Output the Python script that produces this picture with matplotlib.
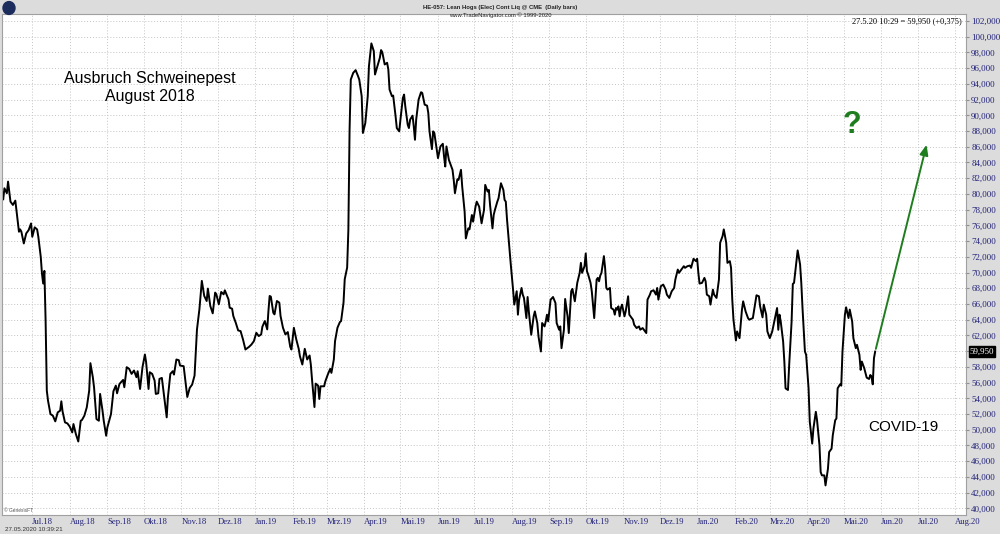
import matplotlib
matplotlib.use("Agg")
import matplotlib.pyplot as plt
from matplotlib.patches import Ellipse
import pandas as pd

# Lean Hogs continuous contract, daily closes
days_2018 = ["06-07", "06-08", "06-10", "06-11", "06-13", "06-15", "06-17", "06-20", "06-21", "06-22",
             "06-24", "06-26", "06-28", "06-30", "07-01", "07-03", "07-05", "07-06", "07-08", "07-09",
             "07-10", "07-11", "07-12", "07-13", "07-14", "07-16", "07-18", "07-20", "07-22", "07-24",
             "07-25", "07-26", "07-28", "07-30", "08-01", "08-03", "08-04", "08-05", "08-06", "08-08",
             "08-10", "08-11", "08-13", "08-15", "08-17", "08-18", "08-20", "08-21", "08-23", "08-25",
             "08-26", "08-28", "08-29", "08-31", "09-01", "09-04", "09-06", "09-08", "09-09", "09-11",
             "09-14", "09-15", "09-17", "09-19", "09-21", "09-23", "09-25", "09-26", "09-28", "09-30",
             "10-02", "10-03", "10-05", "10-06", "10-08", "10-10", "10-11", "10-13", "10-14", "10-16",
             "10-18", "10-20", "10-21", "10-23", "10-25", "10-26", "10-28", "10-30", "10-31", "11-03",
             "11-04", "11-06", "11-08", "11-10", "11-12", "11-14", "11-16", "11-18", "11-20", "11-22",
             "11-23", "11-25", "11-27", "11-29", "11-30", "12-02", "12-04", "12-06", "12-07", "12-10",
             "12-11", "12-13", "12-14", "12-16", "12-18", "12-20", "12-22", "12-24", "12-27", "12-29",
             "12-31"]
price_2018 = [79320, 80720, 80090, 81570, 79020, 78600, 79150, 75190, 75490, 75190,
              73700, 74980, 75400, 76250, 74550, 75750, 75490, 74550, 72000, 69870,
              68600, 70210, 63920, 54980, 53700, 52000, 51790, 51070, 52210, 52430,
              53620, 52340, 50940, 50810, 50390, 49660, 50730, 50090, 49450, 48510,
              51150, 51240, 51790, 52850, 54980, 58470, 56690, 55410, 51360, 51150,
              54560, 52430, 51150, 49240, 50300, 52000, 54900, 55620, 54640, 55830,
              56340, 55410, 57960, 57750, 57110, 57540, 56690, 57450, 55190, 57960,
              59580, 58600, 55190, 57320, 57110, 56260, 54560, 54640, 56470, 56600,
              54130, 51580, 54130, 57110, 57450, 57020, 58940, 58850, 58170, 58090,
              56810, 54170, 55320, 55750, 56900, 62770, 65320, 68940, 67020, 66380,
              67960, 65750, 64810, 67450, 67230, 65960, 67530, 67230, 67740, 66600,
              65530, 65400, 64470, 63620, 62640, 62550, 61490, 60210, 60550, 60850,
              61280]

days_2019 = ["01-02", "01-04", "01-06", "01-07", "01-09", "01-11", "01-12", "01-13", "01-14", "01-16",
             "01-17", "01-19", "01-21", "01-22", "01-24", "01-26", "01-28", "01-30", "01-31", "02-02",
             "02-04", "02-06", "02-07", "02-09", "02-11", "02-13", "02-15", "02-16", "02-17", "02-19",
             "02-20", "02-22", "02-23", "02-24", "02-27", "02-28", "03-02", "03-04", "03-05", "03-07",
             "03-08", "03-10", "03-12", "03-13", "03-15", "03-16", "03-18", "03-19", "03-20", "03-21",
             "03-23", "03-25", "03-27", "03-28", "03-30", "03-31", "04-02", "04-04", "04-05", "04-07",
             "04-09", "04-10", "04-12", "04-14", "04-15", "04-16", "04-18", "04-20", "04-21", "04-22",
             "04-24", "04-25", "04-27", "04-28", "04-30", "05-01", "05-03", "05-04", "05-05", "05-07",
             "05-08", "05-09", "05-11", "05-12", "05-13", "05-14", "05-16", "05-18", "05-19", "05-21",
             "05-23", "05-24", "05-25", "05-27", "05-28", "05-29", "05-31", "06-01", "06-03", "06-05",
             "06-06", "06-07", "06-08", "06-10", "06-11", "06-13", "06-14", "06-15", "06-17", "06-18",
             "06-20", "06-21", "06-23", "06-24", "06-26", "06-27", "06-29", "06-30", "07-02", "07-03",
             "07-05", "07-06", "07-07", "07-09", "07-10", "07-12", "07-13", "07-14", "07-16", "07-17",
             "07-18", "07-20", "07-21", "07-23", "07-25", "07-26", "07-27", "07-28", "07-31", "08-02",
             "08-03", "08-05", "08-06", "08-07", "08-09", "08-10", "08-11", "08-13", "08-14", "08-15",
             "08-17", "08-19", "08-20", "08-22", "08-23", "08-25", "08-26", "08-28", "08-29", "08-30",
             "08-31", "09-02", "09-04", "09-06", "09-07", "09-09", "09-10", "09-11", "09-13", "09-14",
             "09-16", "09-17", "09-19", "09-20", "09-22", "09-24", "09-26", "09-27", "09-28", "09-30",
             "10-01", "10-02", "10-03", "10-05", "10-06", "10-08", "10-09", "10-10", "10-11", "10-12",
             "10-13", "10-14", "10-16", "10-17", "10-18", "10-19", "10-21", "10-22", "10-24", "10-25",
             "10-26", "10-27", "10-28", "10-29", "10-30", "10-31", "11-02", "11-03", "11-05", "11-06",
             "11-08", "11-09", "11-10", "11-12", "11-14", "11-15", "11-17", "11-19", "11-20", "11-21",
             "11-23", "11-24", "11-26", "11-28", "11-29", "11-30", "12-02", "12-04", "12-06", "12-07",
             "12-09", "12-11", "12-13", "12-14", "12-16", "12-17", "12-19", "12-21", "12-22", "12-24",
             "12-26", "12-27", "12-29", "12-31"]
price_2019 = [62340, 61920, 62130, 63110, 63830, 62770, 65110, 67020, 66940, 64890,
              64680, 66380, 66170, 64470, 62980, 62130, 62430, 60550, 60210, 62980,
              61490, 60300, 59360, 58300, 60300, 58940, 59450, 58300, 56380, 52890,
              55870, 55620, 53920, 55530, 55530, 56170, 57020, 57750, 57240, 58940,
              61280, 62980, 63700, 63830, 66170, 69150, 70640, 75410, 88170, 94550,
              95400, 95750, 94980, 94550, 92430, 87750, 89020, 92430, 96260, 99150,
              98170, 95190, 96260, 97320, 98300, 98040, 96470, 96680, 95830, 93280,
              92430, 92510, 89870, 88380, 87960, 89450, 92210, 92640, 91150, 88810,
              88380, 89450, 89960, 88600, 86890, 89450, 92000, 92940, 92850, 91360,
              91230, 90300, 87960, 85700, 87960, 87750, 85620, 84550, 86040, 86380,
              84770, 83490, 86040, 84340, 83920, 83070, 81790, 80090, 81870, 81790,
              83070, 80940, 77750, 74340, 75620, 75490, 77320, 76470, 78380, 79020,
              78380, 77320, 76260, 77960, 81150, 80300, 80510, 78600, 75620, 77320,
              77960, 79020, 79450, 81360, 80510, 79240, 79020, 76770, 71230, 67830,
              65920, 67620, 64640, 66550, 68040, 67190, 66770, 64210, 66890, 65060,
              62090, 64430, 65060, 63580, 61870, 59960, 63580, 63150, 63790, 64640,
              63790, 66550, 66890, 66130, 63580, 62730, 63150, 60380, 62730, 66640,
              64430, 62300, 67620, 67920, 66340, 68680, 69960, 71230, 69960, 70810,
              72430, 70170, 69750, 68680, 67620, 64210, 66770, 69110, 69320, 68890,
              69620, 69960, 72090, 70600, 68040, 67830, 68040, 65490, 65280, 64640,
              65490, 65280, 65700, 64430, 65490, 65920, 64430, 65060, 66980, 64640,
              64210, 64000, 63360, 62940, 63150, 62730, 62940, 62510, 62300, 66550,
              67190, 67620, 67750, 67190, 68040, 66550, 68260, 68470, 67830, 67190,
              66770, 67620, 68040, 69110, 70380, 69960, 70380, 70810, 70600, 70810,
              70890, 70600, 71750, 71450]

days_2020 = ["01-01", "01-02", "01-03", "01-05", "01-07", "01-08", "01-09", "01-11", "01-12", "01-14",
             "01-15", "01-17", "01-19", "01-20", "01-22", "01-23", "01-25", "01-26", "01-28", "01-29",
             "01-30", "01-31", "02-02", "02-03", "02-04", "02-05", "02-07", "02-08", "02-10", "02-12",
             "02-13", "02-16", "02-19", "02-21", "02-22", "02-24", "02-25", "02-27", "02-28", "03-01",
             "03-03", "03-05", "03-07", "03-08", "03-09", "03-10", "03-12", "03-13", "03-14", "03-16",
             "03-17", "03-19", "03-20", "03-21", "03-23", "03-24", "03-26", "03-27", "03-28", "03-30",
             "03-31", "04-02", "04-03", "04-05", "04-06", "04-08", "04-09", "04-11", "04-12", "04-13",
             "04-15", "04-16", "04-18", "04-19", "04-21", "04-22", "04-24", "04-25", "04-26", "04-28",
             "04-29", "04-30", "05-02", "05-03", "05-05", "05-06", "05-08", "05-09", "05-11", "05-12",
             "05-14", "05-15", "05-16", "05-18", "05-20", "05-22", "05-23", "05-24", "05-25", "05-26",
             "05-27"]
price_2020 = [71750, 69960, 68600, 68680, 69320, 68890, 67190, 66980, 65920, 67830,
              67190, 66770, 69110, 73790, 74640, 75490, 73790, 71230, 71450, 70600,
              66550, 64000, 61360, 62510, 62090, 61660, 65280, 66340, 65060, 64210,
              64000, 64210, 67110, 66980, 65700, 64300, 65920, 64640, 62510, 61660,
              62510, 64000, 65490, 62720, 64640, 63790, 61230, 58680, 55270, 55060,
              58250, 63790, 68560, 68680, 71460, 72820, 71030, 68680, 65490, 59950,
              59530, 55270, 51010, 48240, 50150, 52290, 51220, 48030, 44620, 44200,
              44200, 42920, 45040, 47170, 47600, 49300, 51220, 51430, 55270, 55780,
              55610, 59950, 64640, 65580, 64210, 65290, 63790, 61660, 60380, 60810,
              59530, 57620, 58680, 57820, 56630, 56460, 56970, 56760, 55780, 59100,
              59950]

month_labels = ["Jul.18", "Aug.18", "Sep.18", "Okt.18", "Nov.18", "Dez.18", "Jan.19", "Feb.19",
                "Mrz.19", "Apr.19", "Mai.19", "Jun.19", "Jul.19", "Aug.19", "Sep.19", "Okt.19",
                "Nov.19", "Dez.19", "Jan.20", "Feb.20", "Mrz.20", "Apr.20", "Mai.20", "Jun.20",
                "Jul.20", "Aug.20"]
last_price = 59950
target_date, target_price = "2020-07-09", 86600

dates = pd.to_datetime(["2018-" + d for d in days_2018] + ["2019-" + d for d in days_2019]
                       + ["2020-" + d for d in days_2020])
prices = price_2018 + price_2019 + price_2020

navy = "#23237a"
serif = "Liberation Serif"
sans = "Liberation Sans"

fig = plt.figure(figsize=(10, 5.34), dpi=100, facecolor="#dcdcdc")
ax = fig.add_axes([0.002, 0.0356, 0.964, 0.9382], facecolor="white")

ax.plot(dates, prices, color="black", lw=1.4)
ax.annotate("", xy=(pd.Timestamp(target_date), target_price), xytext=(dates[-1], last_price),
            arrowprops=dict(arrowstyle="-|>,head_length=0.6,head_width=0.25", color="#1e7d1e", lw=1.4))

ax.set_xlim(pd.Timestamp("2018-06-06"), pd.Timestamp("2020-08-10"))
ax.set_ylim(39160, 102890)

months = pd.date_range("2018-07-01", "2020-08-01", freq="MS")
ax.set_xticks(months)
ax.set_xticklabels(month_labels, ha="left", fontsize=6.2, color=navy, family=serif)
ax.tick_params(axis="x", length=0, pad=2)

# the 60,000 label sits behind the last-price box
yticks = list(range(40000, 102001, 2000))
ax.set_yticks(yticks)
ax.set_yticklabels(["" if v == 60000 else f"{v:,}" for v in yticks], fontsize=6.5,
                   color=navy, family=serif)
ax.yaxis.tick_right()
ax.tick_params(axis="y", length=2.5, color="#909090", pad=1.2)

ax.grid(True, color="#c4c4c4", linestyle=(0, (1, 2)), lw=0.7)
for s in ax.spines.values():
    s.set_color("#a0a0a0")
    s.set_linewidth(0.8)

# last-price box on the axis
ax.text(1.004, last_price, "59,950", transform=ax.get_yaxis_transform(), fontsize=6.5,
        family=serif, color="white", va="center", ha="left",
        bbox=dict(boxstyle="square,pad=0.12", fc="black", ec="black"))

ax.text(0.153, 0.853, "Ausbruch Schweinepest\nAugust 2018", transform=ax.transAxes, ha="center",
        va="center", fontsize=11.5, family=sans, linespacing=1.3)
ax.text(0.935, 0.175, "COVID-19", transform=ax.transAxes, ha="center", va="center",
        fontsize=11, family=sans)
ax.text(0.882, 0.778, "?", transform=ax.transAxes, ha="center", va="center", fontsize=22,
        fontweight="bold", color="#1e7d1e", family=sans)
ax.text(0.996, 0.993, "27.5.20 10:29 = 59,950 (+0,375)", transform=ax.transAxes, ha="right",
        va="top", fontsize=6, family=serif)
ax.text(0.002, 0.006, "© GenesisFT", transform=ax.transAxes, fontsize=3.5, color="#555555",
        family=sans)

fig.text(0.5, 0.99, "HE-057: Lean Hogs (Elec) Cont Liq @ CME  (Daily bars)", ha="center", va="top",
         fontsize=4.2, fontweight="bold", family=sans, color="#222222")
fig.text(0.5, 0.977, "www.TradeNavigator.com © 1999-2020", ha="center", va="top",
         fontsize=4.2, family=sans, color="#222222")
fig.text(0.005, 0.004, "27.05.2020 10:39:21", ha="left", va="bottom", fontsize=4.5,
         family=sans, color="#333333")
fig.add_artist(Ellipse((0.009, 0.985), 0.012, 0.024, transform=fig.transFigure,
                       color="#1c2c5c"))

fig.savefig("out.png", dpi=100, facecolor=fig.get_facecolor())
